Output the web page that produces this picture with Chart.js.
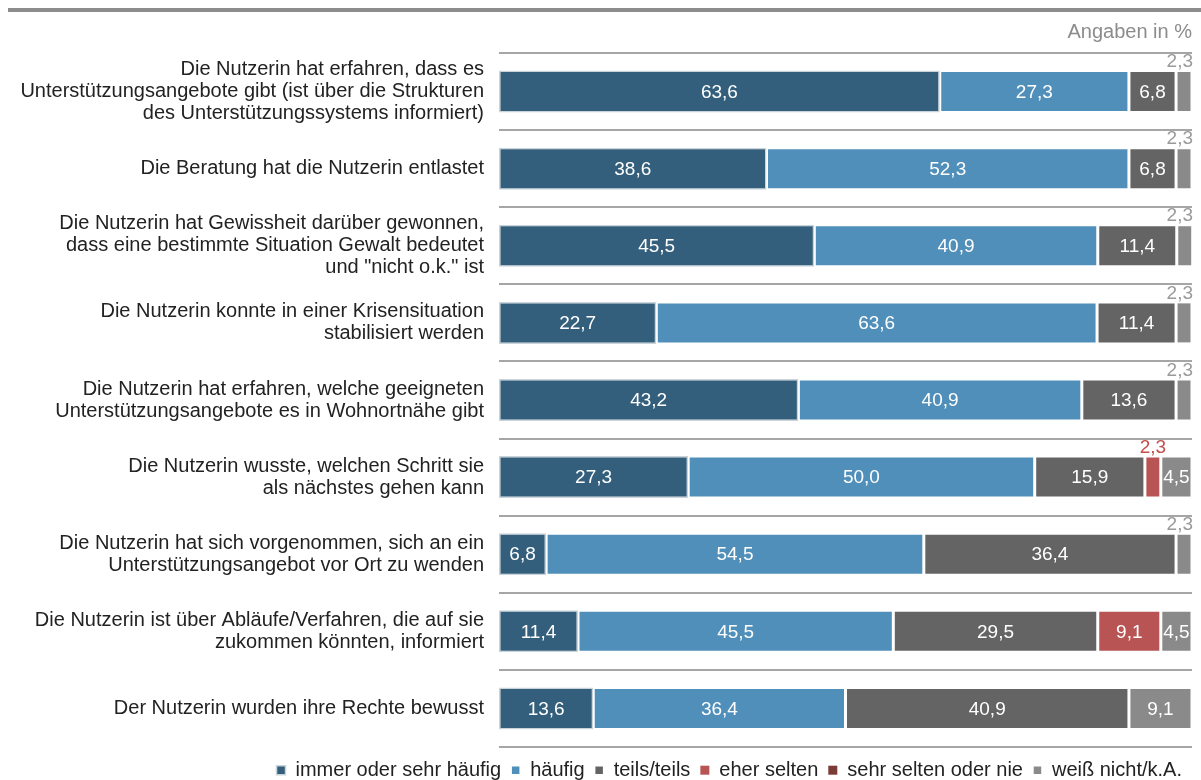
<!DOCTYPE html>
<html lang="de">
<head>
<meta charset="utf-8">
<title>Wirkung der Beratung</title>
<script src="https://cdn.jsdelivr.net/npm/chart.js@4/dist/chart.umd.min.js"></script>
<style>
    html, body { margin: 0; padding: 0; background: #fff; }
    #wrap { width: 1201px; height: 780px; position: relative; }
</style>
</head>
<body>
<div id="wrap"><canvas id="chart"></canvas></div>
<script>
const categories = [
    ['Die Nutzerin hat erfahren, dass es', 'Unterstützungsangebote gibt (ist über die Strukturen', 'des Unterstützungssystems informiert)'],
    'Die Beratung hat die Nutzerin entlastet',
    ['Die Nutzerin hat Gewissheit darüber gewonnen,', 'dass eine bestimmte Situation Gewalt bedeutet', 'und "nicht o.k." ist'],
    ['Die Nutzerin konnte in einer Krisensituation', 'stabilisiert werden'],
    ['Die Nutzerin hat erfahren, welche geeigneten', 'Unterstützungsangebote es in Wohnortnähe gibt'],
    ['Die Nutzerin wusste, welchen Schritt sie', 'als nächstes gehen kann'],
    ['Die Nutzerin hat sich vorgenommen, sich an ein', 'Unterstützungsangebot vor Ort zu wenden'],
    ['Die Nutzerin ist über Abläufe/Verfahren, die auf sie', 'zukommen könnten, informiert'],
    'Der Nutzerin wurden ihre Rechte bewusst'
];

const immer      = [63.6, 38.6, 45.5, 22.7, 43.2, 27.3,  6.8, 11.4, 13.6];
const haeufig    = [27.3, 52.3, 40.9, 63.6, 40.9, 50.0, 54.5, 45.5, 36.4];
const teils      = [ 6.8,  6.8, 11.4, 11.4, 13.6, 15.9, 36.4, 29.5, 40.9];
const eherSelten = [ 0,    0,    0,    0,    0,    2.3,  0,    9.1,  0  ];
const sehrSelten = [ 0,    0,    0,    0,    0,    0,    0,    0,    0  ];
const weissNicht = [ 2.3,  2.3,  2.3,  2.3,  2.3,  4.5,  2.3,  4.5,  9.1];

const seriesNames = ['immer oder sehr häufig', 'häufig', 'teils/teils', 'eher selten', 'sehr selten oder nie', 'weiß nicht/k.A.'];
const seriesData = [immer, haeufig, teils, eherSelten, sehrSelten, weissNicht];
const seriesColors = ['#345f7c', '#4f8fb9', '#646464', '#b85454', '#7b3b36', '#8a8a8a'];
const smallLabelColors = ['#345f7c', '#4f8fb9', '#646464', '#c0504d', '#7b3b36', '#9a9a9a'];

const FONT = "'Liberation Sans', Arial, sans-serif";

const fmt = v => v.toFixed(1).replace('.', ',');

// Linie ganz oben
const topRule = {
    id: 'topRule',
    beforeDraw(chart) {
        const ctx = chart.ctx;
        ctx.save();
        ctx.fillStyle = '#8c8c8c';
        ctx.fillRect(8, 8, chart.width - 8, 4);
        ctx.restore();
    }
};

// Werte in den Balken, kleine Werte darüber
const valueLabels = {
    id: 'valueLabels',
    afterDatasetsDraw(chart) {
        const ctx = chart.ctx;
        const right = chart.chartArea.right + 1;
        ctx.save();
        ctx.font = '19px ' + FONT;
        ctx.textAlign = 'center';
        chart.data.datasets.forEach((ds, di) => {
            const meta = chart.getDatasetMeta(di);
            meta.data.forEach((bar, i) => {
                const v = ds.data[i];
                if (!v) return;
                const cx = (bar.x + bar.base) / 2;
                if (v >= 4) {
                    ctx.fillStyle = '#ffffff';
                    ctx.textBaseline = 'middle';
                    ctx.fillText(fmt(v), cx, bar.y + 1);
                } else {
                    ctx.fillStyle = smallLabelColors[di];
                    ctx.textBaseline = 'bottom';
                    let x = cx;
                    const w = ctx.measureText(fmt(v)).width;
                    if (x + w / 2 > right) x = right - w / 2;
                    ctx.fillText(fmt(v), x, bar.y - bar.height / 2 + 1);
                }
            });
        });
        ctx.restore();
    }
};

const ctx = document.getElementById('chart').getContext('2d');
new Chart(ctx, {
    type: 'bar',
    data: {
        labels: categories,
        datasets: seriesNames.map((name, i) => ({
            label: name,
            data: seriesData[i],
            backgroundColor: seriesColors[i],
            borderColor: i === 0 ? '#c9d3da' : '#ffffff',
            borderWidth: c => (c.raw ? 1.5 : 0),
            borderSkipped: false,
            barPercentage: 0.545,
            categoryPercentage: 1
        }))
    },
    plugins: [topRule, valueLabels],
    options: {
        indexAxis: 'y',
        responsive: true,
        maintainAspectRatio: false,
        animation: false,
        layout: { padding: { left: 0, right: 9, top: 0, bottom: 0 } },
        scales: {
            x: {
                stacked: true,
                min: 0,
                max: 100,
                display: false
            },
            y: {
                stacked: true,
                afterFit: s => { s.width = 499; },
                grid: {
                    offset: true,
                    color: '#a6a6a6',
                    lineWidth: 2,
                    drawTicks: true,
                    tickLength: 15,
                    tickColor: 'rgba(0,0,0,0)'
                },
                border: { display: false },
                ticks: {
                    color: '#222222',
                    padding: 0,
                    font: { family: FONT, size: 20, lineHeight: '22px' }
                }
            }
        },
        plugins: {
            title: {
                display: true,
                text: 'Angaben in %',
                align: 'end',
                color: '#8c8c8c',
                font: { family: FONT, size: 20, weight: 'normal' },
                padding: { top: 20, bottom: 9 }
            },
            legend: {
                position: 'bottom',
                align: 'end',
                maxHeight: 33,
                title: {
                    display: true,
                    text: ' ',
                    font: { size: 1 },
                    padding: { top: 2, bottom: 0 }
                },
                labels: {
                    color: '#222222',
                    boxWidth: 9,
                    boxHeight: 9,
                    padding: 10,
                    font: { family: FONT, size: 20 }
                }
            },
            tooltip: { enabled: false }
        }
    }
});
</script>
</body>
</html>
